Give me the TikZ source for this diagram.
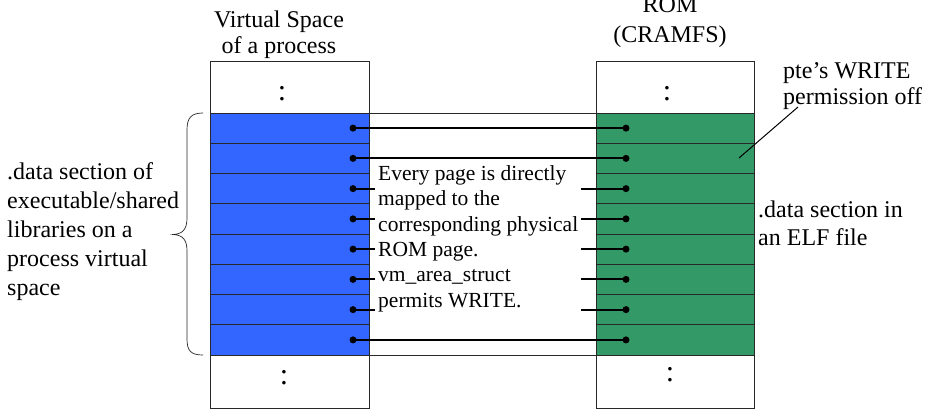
\documentclass[tikz,border=0pt]{standalone}
\usepackage{fontspec}
\setmainfont{Liberation Serif}
\definecolor{pageblue}{RGB}{51,102,255}
\definecolor{pagegreen}{RGB}{51,153,102}
\definecolor{edge}{RGB}{40,40,40}
\begin{document}
\begin{tikzpicture}[x=1pt,y=-1pt,
  big/.style={font=\fontsize{24}{29}\selectfont, inner sep=0pt},
  mid/.style={font=\fontsize{21.5}{25}\selectfont, inner sep=0pt},
  colon/.style={font=\fontsize{30}{30}\selectfont, inner sep=0pt, anchor=base},
  frame/.style={draw=edge, line width=0.9pt},
  rowline/.style={draw=edge, line width=0.9pt},
  link/.style={draw=black, line width=1.8pt},
  dot/.style={circle, fill=black, inner sep=0pt, minimum size=7pt}
]
\useasboundingbox (0,0) rectangle (926,409);
\fill[white] (0,0) rectangle (926,409);

% middle rectangle
\draw[frame] (369,113) rectangle (596,355);

% left column
\fill[pageblue] (210,113) rectangle (369,355);
\draw[frame] (210,61) rectangle (369,408);
% right column
\fill[pagegreen] (596,113) rectangle (754,355);
\draw[frame] (596,61) rectangle (754,408);
\foreach \k in {0,...,8}{
  \draw[rowline] (210,{113+30.25*\k}) -- (369,{113+30.25*\k});
  \draw[rowline] (596,{113+30.25*\k}) -- (754,{113+30.25*\k});
}

% colons
\node[colon] (ltop) at (282,100.5) {:};
\node[colon] (rtop) at (667,100.5) {:};
\node[colon] (lbot) at (284,384.5) {:};
\node[colon] (rbot) at (670,381.5) {:};

% connectors
\foreach \k in {1,...,8}{
  \node[dot] (L\k) at (353,{113+30.25*(\k-0.5)}) {};
  \node[dot] (R\k) at (626,{113+30.25*(\k-0.5)}) {};
  \draw[link] (L\k.center) -- (R\k.center);
}

% explanation box
\node[fill=white, minimum width=206pt, minimum height=167pt, inner sep=0pt, anchor=north west] (txtbg) at (375,160) {};
\foreach \t [count=\i] in {Every page is directly, mapped to the, corresponding physical, ROM page., vm\_area\_struct, permits WRITE.}
  \node[mid, anchor=base west] (mid\i) at (378,{180.5+25.3*(\i-1)}) {\t};

% titles
\node[big, anchor=base] (vs1) at (279,28) {Virtual Space};
\node[big, anchor=base] (vs2) at (279,54) {of a process};
\node[big, anchor=base] (rom1) at (670,13) {ROM};
\node[big, anchor=base] (rom2) at (670,43) {(CRAMFS)};

% left label and brace
\foreach \t [count=\i] in {.data section of, executable/shared, libraries on a, process virtual, space}
  \node[big, anchor=base west] (lt\i) at (7,{179+29*(\i-1)}) {\t};
\draw[edge, line width=0.7pt] (203,113) .. controls (191,113) and (187,118) .. (187,130) -- (187,218)
  .. controls (187,229) and (183,234) .. (173,234.5)
  .. controls (183,235) and (187,240) .. (187,251) -- (187,339)
  .. controls (187,351) and (191,355) .. (203,355);

% right labels
\node[big, anchor=base west] (rt1) at (758,217) {.data section in};
\node[big, anchor=base west] (rt2) at (758,245) {an ELF file};
\node[big, anchor=base west] (pte1) at (783,79) {pte’s WRITE};
\node[big, anchor=base west] (pte2) at (783,105) {permission off};
\coordinate (ptefrom) at (798,107);
\coordinate (ptetip) at (739,158);
\draw[black, line width=1pt] (ptefrom) -- (ptetip);
\end{tikzpicture}
\end{document}
